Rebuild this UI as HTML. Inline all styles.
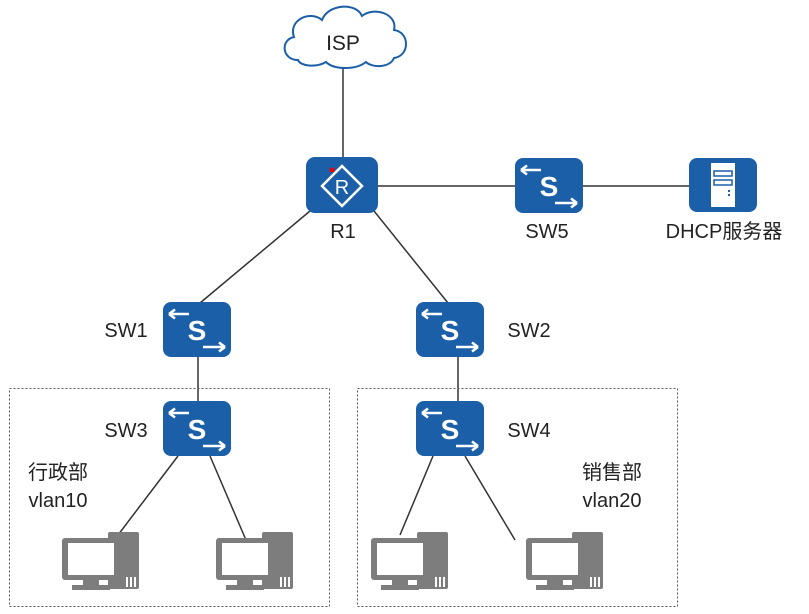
<!DOCTYPE html>
<html><head><meta charset="utf-8"><style>
body{margin:0;background:#fff;}
svg{display:block;font-family:"Liberation Sans","Noto Sans CJK SC",sans-serif;}
</style></head><body>
<svg width="809" height="614" viewBox="0 0 809 614" xmlns="http://www.w3.org/2000/svg">
<defs>
<g id="sw">
<rect x="0" y="0" width="68" height="55" rx="8" fill="#1b5fa8"/>
<text x="34" y="38" text-anchor="middle" font-size="28" font-weight="bold" fill="#fff">S</text>
<path d="M6 12 L26 12 M6 12 L12 7.5 M6 12 L12 16.5" stroke="#fff" stroke-width="2.5" fill="none"/>
<path d="M40 45 L62 45 M62 45 L56 40.5 M62 45 L56 49.5" stroke="#fff" stroke-width="2.5" fill="none"/>
</g>
<g id="pc" fill="#7d7d7d">
<rect x="46" y="0" width="31" height="57" rx="2"/>
<rect x="0" y="6" width="58" height="42" rx="3"/>
<rect x="6" y="11" width="46" height="32" fill="#fff"/>
<rect x="21" y="48" width="16" height="5"/>
<rect x="10" y="53" width="38" height="5"/>
<rect x="64" y="45" width="2" height="10" fill="#fff"/><rect x="68" y="45" width="2" height="10" fill="#fff"/><rect x="72" y="45" width="2" height="10" fill="#fff"/>
</g>
</defs>
<g stroke="#333" stroke-width="1.5" fill="none">
<line x1="343" y1="62" x2="343" y2="158"/>
<line x1="378" y1="186" x2="690" y2="186"/>
<line x1="310" y1="211" x2="200" y2="303"/>
<line x1="374" y1="211" x2="448" y2="303"/>
<line x1="198" y1="357" x2="198" y2="402"/>
<line x1="458" y1="357" x2="458" y2="402"/>
<line x1="178" y1="456" x2="118" y2="535"/>
<line x1="210" y1="456" x2="246" y2="540"/>
<line x1="433" y1="456" x2="400" y2="535"/>
<line x1="465" y1="456" x2="515" y2="540"/>
</g>
<rect x="9.5" y="388.5" width="320" height="218" fill="none" stroke="#555" stroke-dasharray="2,2"/>
<rect x="357.5" y="388.5" width="320" height="218" fill="none" stroke="#555" stroke-dasharray="2,2"/>
<path d="M298 60 C282 60 280 40 294 37 C288 20 310 10 322 20 C328 4 356 2 362 16 C374 6 398 14 394 30 C410 32 410 56 394 58 C390 68 372 68 366 62 C356 70 334 70 326 62 C316 68 300 66 298 60 Z" fill="#fff" stroke="#1b5fa8" stroke-width="2"/>
<text x="343" y="50" text-anchor="middle" font-size="21" fill="#222">ISP</text>
<rect x="306" y="157" width="72" height="56" rx="9" fill="#1b5fa8"/>
<path d="M342 166 L362 186 L342 206 L322 186 Z" fill="none" stroke="#fff" stroke-width="2.5"/>
<text x="342" y="194" text-anchor="middle" font-size="20" fill="#fff">R</text>
<circle cx="332" cy="170" r="2.5" fill="#e00"/>
<use href="#sw" x="515" y="158"/>
<rect x="689" y="158" width="68" height="54" rx="8" fill="#1b5fa8"/>
<rect x="711" y="163" width="24" height="44" fill="#fff"/>
<rect x="714" y="171" width="18" height="5" fill="none" stroke="#1b5fa8" stroke-width="1.5"/>
<rect x="714" y="180" width="18" height="5" fill="none" stroke="#1b5fa8" stroke-width="1.5"/>
<rect x="728" y="190" width="2" height="2" fill="#1b5fa8"/><rect x="728" y="194" width="2" height="2" fill="#1b5fa8"/>
<use href="#sw" x="163" y="302"/>
<use href="#sw" x="416" y="302"/>
<use href="#sw" x="163" y="401"/>
<use href="#sw" x="416" y="401"/>
<use href="#pc" x="62" y="532"/>
<use href="#pc" x="216" y="532"/>
<use href="#pc" x="371" y="532"/>
<use href="#pc" x="526" y="532"/>
<g font-size="20" fill="#222" text-anchor="middle">
<text x="343" y="238">R1</text>
<text x="547" y="238">SW5</text>
<text x="724" y="238">DHCP服务器</text>
<text x="126" y="337">SW1</text>
<text x="529" y="337">SW2</text>
<text x="126" y="437">SW3</text>
<text x="529" y="437">SW4</text>
<text x="58" y="479">行政部</text>
<text x="58" y="507">vlan10</text>
<text x="612" y="479">销售部</text>
<text x="612" y="507">vlan20</text>
</g>
</svg>
</body></html>
